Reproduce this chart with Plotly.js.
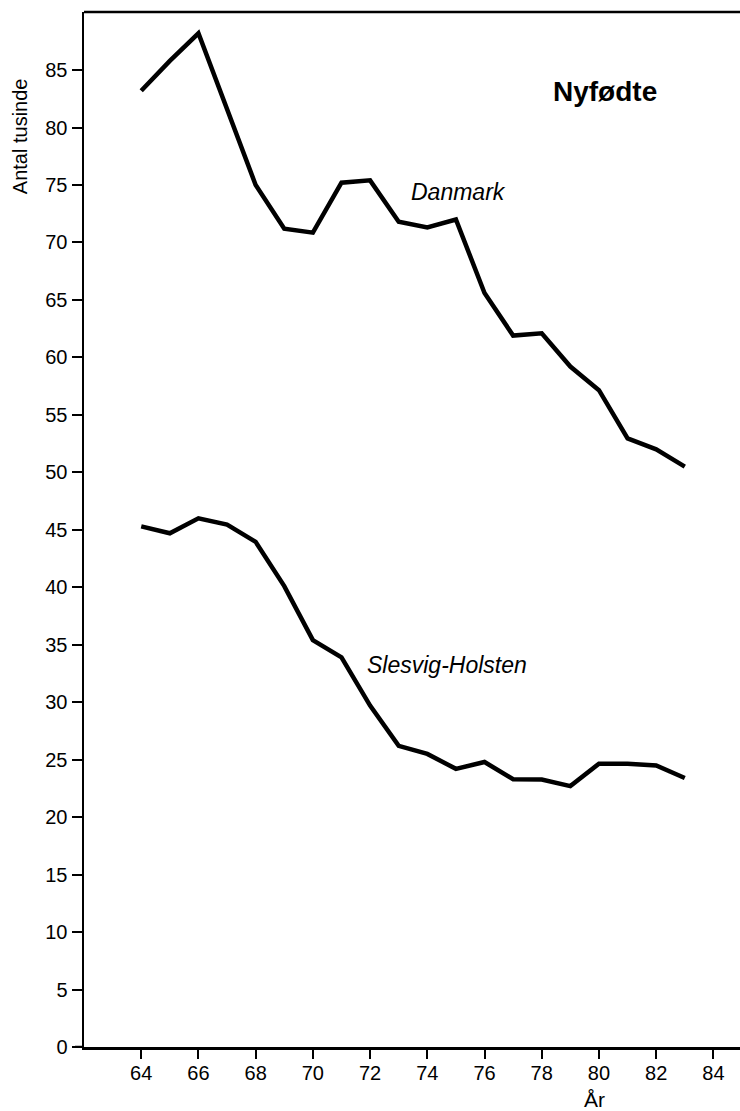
<!DOCTYPE html>
<html>
<head>
<meta charset="utf-8">
<script src="https://cdn.plot.ly/plotly-3.0.1.min.js"></script>
<style>html,body{margin:0;padding:0;background:#fff;}#chart{width:740px;height:1111px;}</style>
</head>
<body>
<div id="chart"></div>
<script>
const years = [64,65,66,67,68,69,70,71,72,73,74,75,76,77,78,79,80,81,82,83];
const danmark = [83.2,85.8,88.2,81.7,75.0,71.2,70.85,75.2,75.4,71.8,71.3,72.0,65.6,61.9,62.1,59.2,57.15,52.95,52.0,50.5];
const slesvigHolsten = [45.3,44.7,46.0,45.45,43.95,40.1,35.4,33.9,29.7,26.2,25.5,24.2,24.8,23.3,23.27,22.7,24.65,24.65,24.5,23.4];
const xTicks = [64,66,68,70,72,74,76,78,80,82,84];
const yTicks = [0,5,10,15,20,25,30,35,40,45,50,55,60,65,70,75,80,85];
const labels = {title:'Nyfødte', dk:'Danmark', sh:'Slesvig-Holsten', ytitle:'Antal tusinde', xtitle:'År'};

const font = 'Liberation Sans, Arial, Helvetica, sans-serif';
const lineStyle = {color:'#000', width:4.5};

const data = [
  {x:years, y:danmark, type:'scatter', mode:'lines', line:lineStyle, name:labels.dk, hoverinfo:'skip'},
  {x:years, y:slesvigHolsten, type:'scatter', mode:'lines', line:lineStyle, name:labels.sh, hoverinfo:'skip'}
];

const layout = {
  width:740, height:1111,
  margin:{l:84, r:0, t:12, b:64},
  paper_bgcolor:'#fff', plot_bgcolor:'#fff',
  showlegend:false,
  font:{family:font, color:'#000', size:19},
  xaxis:{range:[62,84.93], tickvals:xTicks, ticktext:xTicks.map(String), showgrid:false, zeroline:false,
         showline:true, linecolor:'#000', linewidth:2.5, ticks:'outside', ticklen:9, tickwidth:2, tickcolor:'#000',
         tickfont:{size:20, family:font}, ticklabelstandoff:-3},
  yaxis:{range:[0,90.05], tickvals:yTicks, ticktext:yTicks.map(String), showgrid:false, zeroline:false,
         showline:true, linecolor:'#000', linewidth:2.5, ticks:'outside', ticklen:10, tickwidth:2, tickcolor:'#000',
         tickfont:{size:20, family:font}, ticklabelstandoff:0},
  shapes:[
    {type:'line', xref:'paper', yref:'paper', x0:0, x1:1, y0:1, y1:1, line:{color:'#000', width:2.5}},
    {type:'line', xref:'paper', yref:'y', x0:-0.0137, x1:0, y0:0, y1:0, line:{color:'#000', width:2.5}}
  ],
  annotations:[
    {text:'<b>'+labels.title+'</b>', xref:'x', yref:'y', x:80.2, y:83.1, showarrow:false, font:{size:28, family:font}},
    {text:'<i>'+labels.dk+'</i>', xref:'x', yref:'y', x:75.1, y:74.4, showarrow:false, font:{size:23, family:font}},
    {text:'<i>'+labels.sh+'</i>', xref:'x', yref:'y', x:74.7, y:33.2, showarrow:false, font:{size:23, family:font}},
    {text:labels.ytitle, xref:'paper', yref:'paper', x:-0.0976, y:0.880, xanchor:'center', yanchor:'middle', textangle:-90, showarrow:false, font:{size:20, family:font}},
    {text:labels.xtitle, xref:'x', yref:'paper', x:79.85, y:-0.051, xanchor:'center', yanchor:'middle', showarrow:false, font:{size:21, family:font}}
  ]
};

Plotly.newPlot('chart', data, layout, {displayModeBar:false, staticPlot:true});
</script>
</body>
</html>
